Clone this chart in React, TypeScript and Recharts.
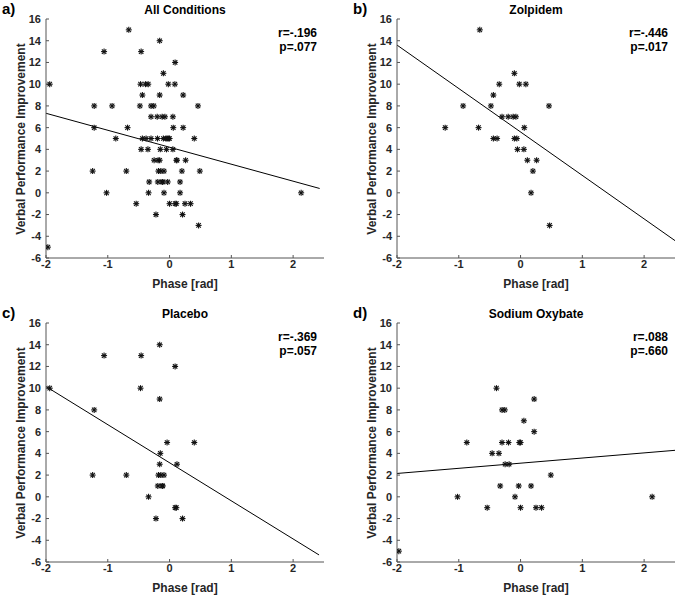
import { ScatterChart, Scatter, XAxis, YAxis, ReferenceLine } from "recharts";

// phase [rad], verbal performance improvement
const zolpidemPts: [number, number][] = [
  [-0.66, 15], [-0.1, 11], [-0.345, 10], [-0.02, 10], [0.086, 10], [-0.44, 9],
  [-0.93, 8], [-0.48, 8], [0.46, 8], [-0.3, 7], [-0.2, 7], [-0.12, 7], [-0.075, 7],
  [-1.22, 6], [-0.68, 6], [0.06, 6], [-0.44, 5], [-0.38, 5], [-0.1, 5], [-0.06, 5],
  [-0.05, 4], [0.054, 4], [0.11, 3], [0.26, 3], [0.2, 2], [0.17, 0], [0.47, -3],
];

const placeboPts: [number, number][] = [
  [-0.16, 14], [-1.06, 13], [-0.46, 13], [0.09, 12], [-1.94, 10], [-0.47, 10],
  [-0.16, 9], [-1.22, 8], [-0.04, 5], [0.4, 5], [-0.15, 4], [-0.16, 3], [0.12, 3],
  [-1.245, 2], [-0.7, 2], [-0.18, 2], [-0.14, 2], [-0.09, 2], [-0.19, 1], [-0.12, 1],
  [-0.11, 1], [-0.34, 0], [0.09, -1], [0.11, -1], [-0.22, -2], [0.21, -2],
];

const oxybatePts: [number, number][] = [
  [-0.39, 10], [0.22, 9], [-0.3, 8], [-0.255, 8], [0.054, 7], [0.22, 6], [-0.87, 5],
  [-0.3, 5], [-0.195, 5], [-0.02, 5], [0.0, 5], [-0.46, 4], [-0.35, 4], [-0.25, 3],
  [-0.185, 3], [0.49, 2], [-0.33, 1], [-0.03, 1], [0.17, 1], [-1.02, 0], [-0.09, 0],
  [2.13, 0], [-0.54, -1], [0.0, -1], [0.25, -1], [0.34, -1], [-1.97, -5],
];

// fitted line end points
const allFit: [number, number][] = [[-2, 7.32], [2.43, 0.4]];
const zolpidemFit: [number, number][] = [[-2, 13.6], [2.5, -4.4]];
const placeboFit: [number, number][] = [[-2, 10.15], [2.42, -5.35]];
const oxybateFit: [number, number][] = [[-2, 2.15], [2.5, 4.28]];

const xTicks = [-2, -1, 0, 1, 2];
const yTicks = [-6, -4, -2, 0, 2, 4, 6, 8, 10, 12, 14, 16];

const toObj = (pts: [number, number][]) => pts.map(([x, y]) => ({ x, y }));

const FONT = "'Liberation Sans', Arial, sans-serif";
const AXIS = "#555";
const TXT = "#262626";

const Asterisk = (props: any) => {
  const { cx, cy } = props;
  const r = 3;
  const d = 2.2;
  return (
    <g stroke="#111" strokeWidth={1.1}>
      <line x1={cx - r} y1={cy} x2={cx + r} y2={cy} />
      <line x1={cx} y1={cy - r} x2={cx} y2={cy + r} />
      <line x1={cx - d} y1={cy - d} x2={cx + d} y2={cy + d} />
      <line x1={cx - d} y1={cy + d} x2={cx + d} y2={cy - d} />
    </g>
  );
};

type PanelProps = {
  letter: string;
  title: string;
  pts: [number, number][];
  fit: [number, number][];
  r: string;
  p: string;
  left: number;
  top: number;
  width: number;
  marginRight: number;
};

const PLOT_LEFT = 46;
const PLOT_TOP = 19;
const PLOT_W = 278;
const PLOT_H = 239;
const CH = 291;

function Panel({ letter, title, pts, fit, r, p, left, top, width, marginRight }: PanelProps) {
  const plotX = left + PLOT_LEFT;
  const plotY = top + PLOT_TOP;
  const centerX = plotX + PLOT_W / 2;
  const rightX = plotX + PLOT_W - 7;
  const txt: React.CSSProperties = {
    position: "absolute",
    fontFamily: FONT,
    fontWeight: "bold",
    lineHeight: 1,
    whiteSpace: "nowrap",
    color: "#000",
  };
  return (
    <>
      <div style={{ position: "absolute", left, top }}>
        <ScatterChart
          width={width}
          height={CH}
          margin={{ top: PLOT_TOP, right: marginRight, left: 0, bottom: 0 }}
        >
          <XAxis
            type="number"
            dataKey="x"
            domain={[-2, 2.5]}
            ticks={xTicks}
            allowDataOverflow
            height={CH - PLOT_TOP - PLOT_H}
            stroke={AXIS}
            tickSize={-3}
            tickMargin={5}
            tick={{ fontSize: 11, fontWeight: "bold", fill: TXT, fontFamily: FONT }}
            label={{
              value: "Phase [rad]",
              position: "insideBottom",
              offset: 3,
              fontSize: 12,
              fontWeight: "bold",
              fill: TXT,
              fontFamily: FONT,
            }}
          />
          <YAxis
            type="number"
            dataKey="y"
            domain={[-6, 16]}
            ticks={yTicks}
            allowDataOverflow
            width={PLOT_LEFT}
            stroke={AXIS}
            tickSize={-3}
            tickMargin={8}
            tick={{ fontSize: 11, fontWeight: "bold", fill: TXT, fontFamily: FONT }}
          />
          <ReferenceLine
            segment={fit.map(([x, y]) => ({ x, y }))}
            stroke="#000"
            strokeWidth={1}
            ifOverflow="extendDomain"
          />
          <Scatter data={toObj(pts)} shape={Asterisk} isAnimationActive={false} />
        </ScatterChart>
      </div>
      <div style={{ ...txt, fontSize: 15, left: left + 2 + (letter === "a" || letter === "c" ? 0 : 0), top: top + 8, transform: "translate(0, -50%)" }}>
        {letter})
      </div>
      <div style={{ ...txt, fontSize: 12, left: centerX, top: top + 10, transform: "translate(-50%, -50%)" }}>
        {title}
      </div>
      <div style={{ ...txt, fontSize: 12, left: rightX, top: top + 33, transform: "translate(-100%, -50%)", textAlign: "right" }}>
        {r}
      </div>
      <div style={{ ...txt, fontSize: 12, left: rightX, top: top + 47, transform: "translate(-100%, -50%)", textAlign: "right" }}>
        {p}
      </div>
      <div
        style={{
          ...txt,
          fontSize: 12,
          color: TXT,
          left: left + 21,
          top: plotY + PLOT_H / 2,
          transform: "translate(-50%, -50%) rotate(-90deg)",
        }}
      >
        Verbal Performance Improvement
      </div>
    </>
  );
}

export default function App() {
  const allPts = [...zolpidemPts, ...placeboPts, ...oxybatePts];
  return (
    <div
      style={{
        position: "absolute",
        left: 0,
        top: 0,
        width: 678,
        height: 595,
        background: "#fff",
        overflow: "hidden",
      }}
    >
      <Panel letter="a" title="All Conditions" pts={allPts} fit={allFit} r="r=-.196" p="p=.077" left={0} top={0} width={339} marginRight={15} />
      <Panel letter="b" title="Zolpidem" pts={zolpidemPts} fit={zolpidemFit} r="r=-.446" p="p=.017" left={351} top={0} width={327} marginRight={3} />
      <Panel letter="c" title="Placebo" pts={placeboPts} fit={placeboFit} r="r=-.369" p="p=.057" left={0} top={304} width={339} marginRight={15} />
      <Panel letter="d" title="Sodium Oxybate" pts={oxybatePts} fit={oxybateFit} r="r=.088" p="p=.660" left={351} top={304} width={327} marginRight={3} />
    </div>
  );
}
